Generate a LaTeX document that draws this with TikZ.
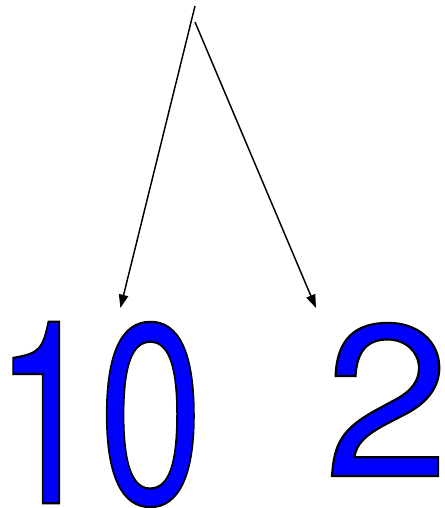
\documentclass[tikz,border=0pt]{standalone}
\usepackage{fontspec}
\usepackage{graphicx}
\usepackage{xcolor}
\newfontfamily\digitfont{TeX Gyre Heros}
\usetikzlibrary{arrows.meta, positioning, calc}
\definecolor{digitblue}{RGB}{0,0,255}
% text drawn filled and stroked in black
\newcommand{\outlined}[1]{\special{pdf:literal direct 2 Tr 0 0 0 RG 1.6 w}#1\special{pdf:literal direct 0 Tr}}

\begin{document}
\begin{tikzpicture}[x=0.75pt, y=-0.75pt,
  fleche/.style={-{Triangle[length=10pt, width=7pt]}, line width=1.1pt},
  chiffre/.style={inner sep=0pt, anchor=base west, text=digitblue}]
  \useasboundingbox (0,0) rectangle (444,508);
  % --- Points de depart ---
  \coordinate (haut1) at (195,6);
  \coordinate (haut2) at (195,22);
  % --- Nombres ---
  \node[chiffre] (dix) at (-6.3,503.3) {\scalebox{0.735}[1]{\fontsize{192}{192}\digitfont\outlined{10}}};
  \node[chiffre] (deux) at (324.2,476) {\scalebox{1.04}[1]{\fontsize{162}{162}\digitfont\outlined{2}}};
  % --- Fleches ---
  \draw[fleche] (haut1) -- ($(dix.base)+(21.8,-195.3)$);
  \draw[fleche] (haut2) -- ($(deux.base west)+(-8.2,-168)$);
\end{tikzpicture}
\end{document}
